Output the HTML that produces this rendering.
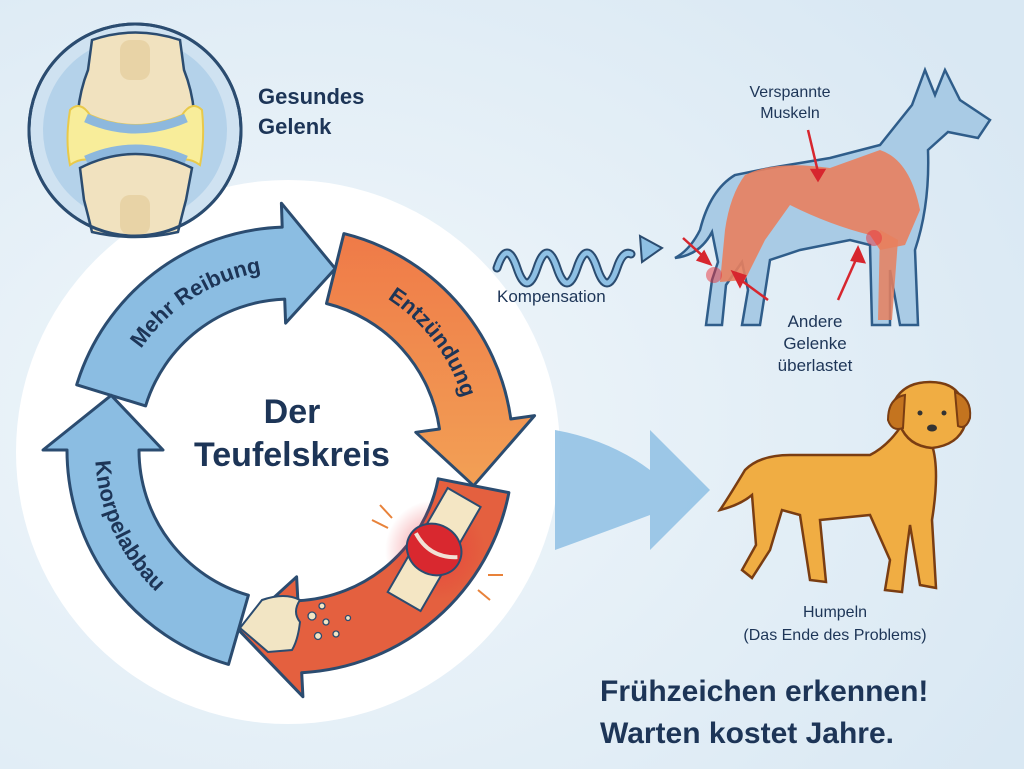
<!DOCTYPE html>
<html><head><meta charset="utf-8"><style>
html,body{margin:0;padding:0;}
body{width:1024px;height:769px;overflow:hidden;background:#e2eef7;font-family:"Liberation Sans",sans-serif;}
svg{display:block}
</style></head><body>
<svg id="s" width="1024" height="769" viewBox="0 0 1024 769" xmlns="http://www.w3.org/2000/svg">
<defs>
<radialGradient id="bg" cx="0.3" cy="0.55" r="0.8"><stop offset="0" stop-color="#f1f7fb"/><stop offset="1" stop-color="#d9e8f3"/></radialGradient>
<linearGradient id="og" x1="0" y1="0" x2="0" y2="1"><stop offset="0" stop-color="#ef7a48"/><stop offset="1" stop-color="#f2a055"/></linearGradient>
<radialGradient id="inf" cx="0.5" cy="0.5" r="0.5"><stop offset="0" stop-color="#e8323a" stop-opacity="0.6"/><stop offset="1" stop-color="#e8323a" stop-opacity="0"/></radialGradient>
</defs>
<rect width="1024" height="769" fill="url(#bg)"/>
<circle cx="288" cy="452" r="272" fill="#ffffff"/>

<!-- healthy joint -->
<circle cx="135" cy="130" r="106" fill="#cfe2f1" stroke="#2b4c70" stroke-width="3"/>
<circle cx="135" cy="130" r="92" fill="#b4d2ea"/>
<path d="M78 112 Q80 90 88 70 L92 40 Q135 25 180 40 L184 70 Q192 90 194 112 Q160 132 135 132 Q110 132 78 112Z" fill="#f1e2bf" stroke="#2b4c70" stroke-width="2.5"/>
<path d="M70 110 Q80 100 90 115 Q135 135 182 115 Q192 100 202 110 Q205 140 200 165 Q190 158 182 160 Q135 138 90 160 Q80 158 70 165 Q65 140 70 110Z" fill="#f8ed9a" stroke="#e9c94a" stroke-width="2"/>
<path d="M86 118 Q135 140 186 118" fill="none" stroke="#8db8dd" stroke-width="9"/>
<path d="M86 160 Q135 138 186 160" fill="none" stroke="#8db8dd" stroke-width="9"/>
<path d="M80 168 Q135 140 192 168 L186 200 Q182 215 178 232 Q135 242 92 232 Q88 215 84 200Z" fill="#f1e2bf" stroke="#2b4c70" stroke-width="2.5"/>
<rect x="120" y="195" width="30" height="40" rx="10" fill="#e8d3a6"/>
<rect x="120" y="40" width="30" height="40" rx="10" fill="#e8d3a6"/>
<circle cx="135" cy="130" r="106" fill="none" stroke="#2b4c70" stroke-width="3"/>
<text x="258" y="104" font-size="22" font-weight="bold" fill="#1d3557">Gesundes</text>
<text x="258" y="134" font-size="22" font-weight="bold" fill="#1d3557">Gelenk</text>

<g id="ring"></g>
<text x="292" y="423" font-size="34" font-weight="bold" fill="#1d3557" text-anchor="middle">Der</text>
<text x="292" y="466" font-size="34" font-weight="bold" fill="#1d3557" text-anchor="middle">Teufelskreis</text>

<!-- inflamed joint on ring -->
<circle cx="435" cy="550" r="50" fill="url(#inf)"/>
<g transform="rotate(30 435 550)">
<rect x="415" y="490" width="38" height="45" fill="#f4e6c4" stroke="#2b4c70" stroke-width="2"/>
<rect x="415" y="565" width="38" height="45" fill="#f4e6c4" stroke="#2b4c70" stroke-width="2"/>
<ellipse cx="434" cy="550" rx="28" ry="25" fill="#d9282f" stroke="#2b4c70" stroke-width="2"/>
<path d="M410 545 Q434 560 458 545" fill="none" stroke="#f1e2d6" stroke-width="4"/>
</g>
<g stroke="#e8823a" stroke-width="2"><line x1="372" y1="520" x2="388" y2="528"/><line x1="380" y1="505" x2="392" y2="518"/><line x1="488" y1="575" x2="503" y2="575"/><line x1="478" y1="590" x2="490" y2="600"/></g>
<!-- crumbled cartilage -->
<path d="M240 628 L262 600 Q285 592 300 600 Q292 612 300 622 Q298 640 292 650 L268 652Z" fill="#f2e5c4" stroke="#2b4c70" stroke-width="2"/>
<g fill="#f2e5c4" stroke="#2b4c70" stroke-width="1.3"><circle cx="312" cy="616" r="4"/><circle cx="326" cy="622" r="3"/><circle cx="318" cy="636" r="3.5"/><circle cx="336" cy="634" r="3"/><circle cx="348" cy="618" r="2.5"/><circle cx="322" cy="606" r="3"/></g>

<!-- wave -->
<path d="M497 268 q10 -30 20 0 q10 30 20 0 q10 -30 20 0 q10 30 20 0 q10 -30 20 0 q10 30 20 0 q6 -18 14 -14" fill="none" stroke="#2b4c70" stroke-width="9" stroke-linecap="round"/>
<path d="M497 268 q10 -30 20 0 q10 30 20 0 q10 -30 20 0 q10 30 20 0 q10 -30 20 0 q10 30 20 0 q6 -18 14 -14" fill="none" stroke="#8ec0e4" stroke-width="5" stroke-linecap="round"/>
<path d="M640 236 L662 248 L642 262Z" fill="#8ec0e4" stroke="#2b4c70" stroke-width="2"/>
<text x="497" y="302" font-size="17" fill="#1d3557">Kompensation</text>

<!-- top dog -->
<path d="M990 120 L960 100 L945 70 L935 95 L925 70 L912 105 L880 145 L830 158 L770 168 L735 175 Q710 190 700 230 Q690 250 675 258 Q700 255 712 232 L718 262 L712 280 L706 325 L722 325 L726 285 L742 262 L748 290 L742 325 L760 325 L770 260 L800 250 L850 240 L870 245 L872 325 L890 325 L890 270 L900 325 L918 325 L915 250 Q930 205 928 150 L948 132 L978 138Z" fill="#a9cbe5" stroke="#2f5d8a" stroke-width="2.5"/>
<path d="M745 175 Q775 160 830 168 L880 150 Q910 160 920 210 L905 245 L880 250 L870 235 Q830 225 790 205 L765 240 L745 280 L720 282 L725 230 Q730 195 745 175Z" fill="#e8805e" opacity="0.9"/>
<path d="M880 230 L878 320 L892 320 L898 240Z" fill="#e8805e" opacity="0.85"/>
<g stroke="#d7262e" stroke-width="2.5" fill="#d7262e">
<line x1="808" y1="130" x2="818" y2="172"/><path d="M812 170 L824 170 L818 180Z"/>
<line x1="768" y1="300" x2="738" y2="278"/><path d="M733 272 L745 276 L740 286Z"/>
<line x1="838" y1="300" x2="858" y2="255"/><path d="M858 248 L864 262 L852 260Z"/>
<line x1="683" y1="238" x2="705" y2="258"/><path d="M710 264 L698 260 L704 252Z"/>
</g>
<circle cx="714" cy="275" r="8" fill="#e8323a" opacity="0.5"/><circle cx="874" cy="238" r="8" fill="#e8323a" opacity="0.5"/>
<text x="790" y="97" font-size="16" fill="#1d3557" text-anchor="middle">Verspannte</text>
<text x="790" y="118" font-size="16" fill="#1d3557" text-anchor="middle">Muskeln</text>
<text x="815" y="327" font-size="17" fill="#1d3557" text-anchor="middle">Andere</text>
<text x="815" y="349" font-size="17" fill="#1d3557" text-anchor="middle">Gelenke</text>
<text x="815" y="371" font-size="17" fill="#1d3557" text-anchor="middle">überlastet</text>

<!-- big arrow -->
<path d="M555 430 Q610 440 650 470 L650 430 L710 490 L650 550 L650 515 Q610 530 555 550Z" fill="#8ec0e4" opacity="0.85"/>

<!-- orange dog -->
<path d="M905 420 Q890 445 870 455 L790 455 Q760 455 745 470 Q730 495 720 510 Q740 505 752 495 L756 545 L742 570 L752 578 L770 550 L782 510 L800 515 L810 580 L826 582 L820 520 L870 515 L890 560 L885 590 L902 592 L906 555 L910 525 L920 585 L936 588 L932 520 Q940 470 932 445 L950 440 L958 420 Z" fill="#f0ad43" stroke="#7a3d12" stroke-width="2.5"/>
<path d="M895 400 Q905 382 930 382 Q955 382 962 400 L965 425 Q958 445 932 448 Q908 446 900 425Z" fill="#f0ad43" stroke="#7a3d12" stroke-width="2.5"/>
<path d="M905 395 Q888 398 888 420 Q892 432 903 428Z" fill="#c4741f" stroke="#7a3d12" stroke-width="2"/>
<path d="M955 392 Q972 398 970 418 Q966 430 958 426Z" fill="#c4741f" stroke="#7a3d12" stroke-width="2"/>
<circle cx="920" cy="413" r="2.5" fill="#333"/><circle cx="944" cy="413" r="2.5" fill="#333"/>
<ellipse cx="932" cy="428" rx="5" ry="3.5" fill="#333"/>
<text x="835" y="617" font-size="16" fill="#1d3557" text-anchor="middle">Humpeln</text>
<text x="835" y="640" font-size="16" fill="#1d3557" text-anchor="middle">(Das Ende des Problems)</text>

<text x="600" y="701" font-size="30" font-weight="bold" fill="#1d3557">Frühzeichen erkennen!</text>
<text x="600" y="743" font-size="30" font-weight="bold" fill="#1d3557">Warten kostet Jahre.</text>
</svg>
<script>
var cx=290,cy=450,r=187,w=36,hw=60,NS="http://www.w3.org/2000/svg";
function P(a,rr){a=a*Math.PI/180;return [(cx+rr*Math.cos(a)).toFixed(1),(cy+rr*Math.sin(a)).toFixed(1)];}
function seg(a0,a1,tip,fill){
 var o0=P(a0,r+w),o1=P(a1,r+w),i0=P(a0,r-w),i1=P(a1,r-w);
 var b1=P(a1,r+hw),b2=P(a1,r-hw),t=P(tip,r);
 var d="M"+i0+" L"+o0+" A"+(r+w)+" "+(r+w)+" 0 0 1 "+o1+" L"+b1+" L"+t+" L"+b2+" L"+i1+" A"+(r-w)+" "+(r-w)+" 0 0 0 "+i0+"Z";
 var p=document.createElementNS(NS,"path");p.setAttribute("d",d);p.setAttribute("fill",fill);
 p.setAttribute("stroke","#2b4c70");p.setAttribute("stroke-width","3");p.setAttribute("stroke-linejoin","round");
 document.getElementById("ring").appendChild(p);
}
seg(197,268,284,"#8bbde2");
seg(284,352,371,"url(#og)");
seg(371,447,466,"#e4603f");
seg(466,540,557,"#8bbde2");
function tp(id,a0,a1,rr,txt,cw){
 var s=P(a0,rr),e=P(a1,rr);
 var p=document.createElementNS(NS,"path");p.setAttribute("id",id);p.setAttribute("fill","none");
 p.setAttribute("d","M"+s+" A"+rr+" "+rr+" 0 0 "+(cw?1:0)+" "+e);
 var g=document.getElementById("ring");g.appendChild(p);
 var t=document.createElementNS(NS,"text");t.setAttribute("font-size","22");t.setAttribute("font-weight","bold");t.setAttribute("fill","#1d3557");
 var q=document.createElementNS(NS,"textPath");q.setAttribute("href","#"+id);q.setAttribute("startOffset","50%");q.setAttribute("text-anchor","middle");q.textContent=txt;
 t.appendChild(q);g.appendChild(t);
}
tp("p1",200,275,180,"Mehr Reibung",true);
tp("p2",288,358,180,"Entzündung",true);
tp("p3",200,110,195,"Knorpelabbau",false);
</script>
</body></html>
